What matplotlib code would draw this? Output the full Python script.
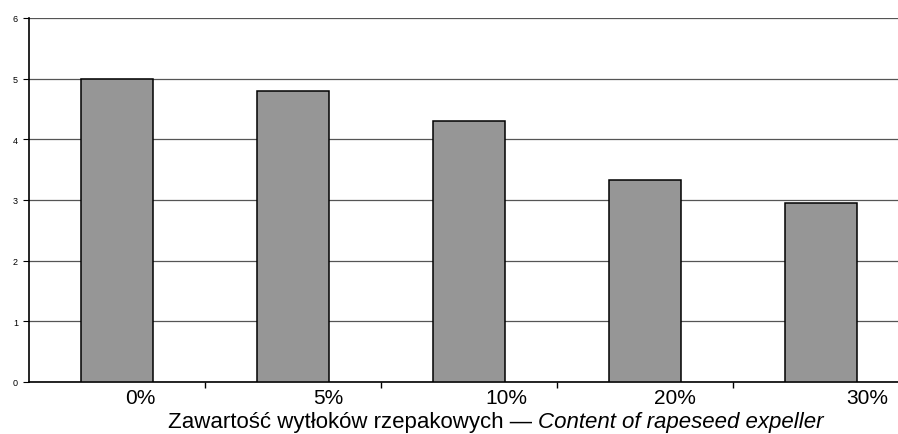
import numpy as np
import matplotlib.pyplot as plt
from matplotlib.ticker import FixedLocator

plt.rcParams['font.family'] = ['Liberation Sans', 'DejaVu Sans']

# udział wytłoków rzepakowych w paszy i odpowiadające im wartości
kategorie = ["0%", "5%", "10%", "20%", "30%"]
wartosci = [5.0, 4.8, 4.3, 3.33, 2.95]

fig = plt.figure(figsize=(8.98, 4.35), dpi=100)
ax = fig.add_axes([29 / 898, 52 / 435, 880 / 898, 364 / 435])

x = np.arange(len(kategorie))
ax.bar(x, wartosci, width=0.405, color="#969696", edgecolor="black",
       linewidth=1.1, zorder=3)

ax.set_xlim(-0.5, len(kategorie) - 0.5)
ax.set_ylim(0, 6)
ax.set_yticks(range(0, 7))
ax.tick_params(axis="y", labelsize=6.5, length=4, width=0.8, pad=4)

# etykiety kategorii przesunięte w prawo, kreski na granicach
ax.set_xticks(x + np.array([0.13, 0.2, 0.21, 0.17, 0.26]))
ax.set_xticklabels(kategorie, fontsize=15)
ax.xaxis.set_minor_locator(FixedLocator(x[:-1] + 0.5))
ax.tick_params(axis="x", which="major", length=0, pad=4)
ax.tick_params(axis="x", which="minor", length=4, width=1.0)

ax.yaxis.grid(True, color="#555555", linewidth=0.9, zorder=0)
for s in ["top", "right"]:
    ax.spines[s].set_visible(False)
ax.spines["left"].set_linewidth(1.2)
ax.spines["bottom"].set_linewidth(1.2)

fig.text(538 / 898, 1 - 423 / 435, "Zawartość wytłoków rzepakowych — ",
         ha="right", va="center", fontsize=16)
fig.text(538 / 898, 1 - 423 / 435, "Content of rapeseed expeller",
         ha="left", va="center", fontsize=16, style="italic")

fig.savefig("out.png", dpi=100)
